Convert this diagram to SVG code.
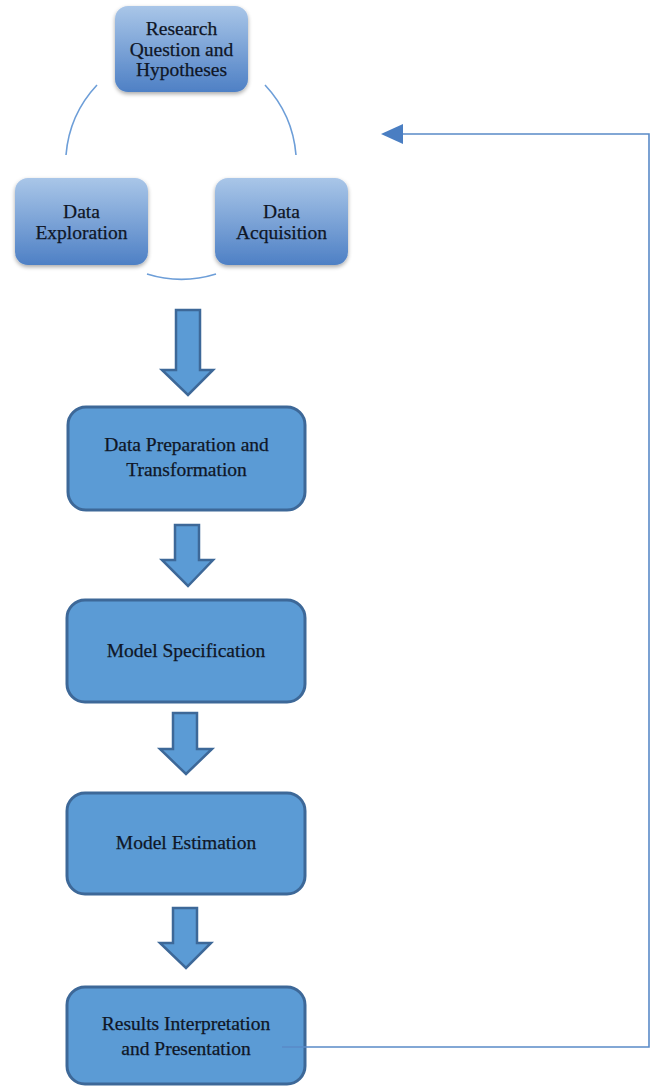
<svg xmlns="http://www.w3.org/2000/svg" width="651" height="1087" viewBox="0 0 651 1087">
<defs>
<linearGradient id="g" x1="0" y1="0" x2="0" y2="1">
<stop offset="0" stop-color="#a9c6e8"/>
<stop offset="1" stop-color="#4e80c5"/>
</linearGradient>
<filter id="sh" x="-20%" y="-20%" width="140%" height="150%">
<feGaussianBlur in="SourceAlpha" stdDeviation="2"/>
<feOffset dx="0" dy="2" result="b"/>
<feComponentTransfer><feFuncA type="linear" slope="0.35"/></feComponentTransfer>
<feMerge><feMergeNode/><feMergeNode in="SourceGraphic"/></feMerge>
</filter>
<marker id="ah" viewBox="0 0 22 20" refX="0" refY="10" markerWidth="22" markerHeight="20" markerUnits="userSpaceOnUse" orient="auto">
<path d="M0,0 L22,10 L0,20 Z" fill="#4a7ec2"/>
</marker>
</defs>
<style>
.top{fill:url(#g);filter:url(#sh)}
.box{fill:#5b9bd5;stroke:#3d6898;stroke-width:3}
.blk{fill:#5b9bd5;stroke:#3d6898;stroke-width:2.5;stroke-linejoin:miter}
.arc{fill:none;stroke:#6d9ed8;stroke-width:1.6}
.t{font-family:"Liberation Serif","DejaVu Serif",serif;font-size:19.5px;fill:#0f1626;text-anchor:middle;stroke:#0f1626;stroke-width:0.25}
.fb{fill:none;stroke:#5a8bc8;stroke-width:1.6}
</style>
<g id="research">
<rect class="top" x="115" y="6" width="133" height="86" rx="13"/>
<text class="t" x="181.5" y="35">Research</text>
<text class="t" x="181.5" y="55.5">Question and</text>
<text class="t" x="181.5" y="76">Hypotheses</text>
</g>
<g id="exploration">
<rect class="top" x="15" y="178" width="133" height="87" rx="13"/>
<text class="t" x="81.5" y="218">Data</text>
<text class="t" x="81.5" y="238.5">Exploration</text>
</g>
<g id="acquisition">
<rect class="top" x="215" y="178" width="133" height="87" rx="13"/>
<text class="t" x="281.5" y="218">Data</text>
<text class="t" x="281.5" y="238.5">Acquisition</text>
</g>
<g id="preparation">
<rect class="box" x="68" y="407" width="237" height="103" rx="18"/>
<text class="t" x="186.5" y="451">Data Preparation and</text>
<text class="t" x="186.5" y="476">Transformation</text>
</g>
<g id="specification">
<rect class="box" x="67" y="600" width="238" height="102" rx="18"/>
<text class="t" x="186" y="657">Model Specification</text>
</g>
<g id="estimation">
<rect class="box" x="67" y="793" width="238" height="101" rx="18"/>
<text class="t" x="186" y="849">Model Estimation</text>
</g>
<g id="results">
<rect class="box" x="67" y="987" width="238" height="97" rx="18"/>
<text class="t" x="186" y="1030">Results Interpretation</text>
<text class="t" x="186" y="1055">and Presentation</text>
</g>
<g id="connectors">
<path class="arc" d="M97,85 A116,116 0 0 0 66,155"/>
<path class="arc" d="M265,85 A116,116 0 0 1 296,155"/>
<path class="arc" d="M147,274 A116,116 0 0 0 216,274"/>
<polygon class="blk" points="176,310 200,310 200,370 213,370 188,395 162,370 176,370"/>
<polygon class="blk" points="175,525 199,525 199,560 213,560 188,586 162,560 175,560"/>
<polygon class="blk" points="173,713 197,713 197,749 212,749 186,774 160,749 173,749"/>
<polygon class="blk" points="173,908 197,908 197,943 211,943 186,968 160,943 173,943"/>
<path class="fb" d="M282,1047 H649 V134 H403" marker-end="url(#ah)"/>
</g>
</svg>
